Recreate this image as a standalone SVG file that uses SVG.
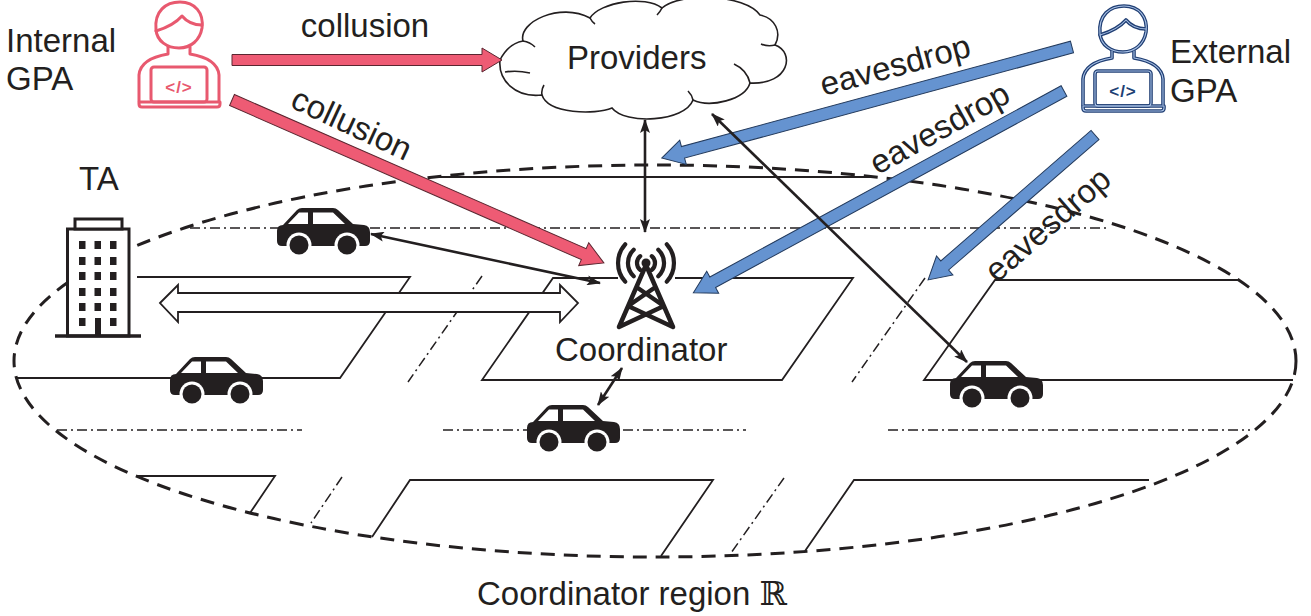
<svg xmlns="http://www.w3.org/2000/svg" width="1311" height="616" viewBox="0 0 1311 616">
<defs>
<style>
text{font-family:"Liberation Sans",Arial,Helvetica,sans-serif;font-size:33px;fill:#231F20}
.road{fill:none;stroke:#231F20;stroke-width:1.8}
.lane{fill:none;stroke:#231F20;stroke-width:1.5;stroke-dasharray:10 4 2 4}
.region{fill:none;stroke:#231F20;stroke-width:3;stroke-dasharray:14 9}
.link{fill:none;stroke:#231F20;stroke-width:2.6;marker-start:url(#tip);marker-end:url(#tip)}
.collude{fill:#EE5B74;stroke:#5a2630;stroke-width:1}
.spy{fill:#6593D0;stroke:#233a5c;stroke-width:1}
.ink{fill:#231F20}
.code{font-size:17px;font-weight:bold;text-anchor:middle;letter-spacing:1px}
</style>
<marker id="tip" viewBox="0 0 14 10" markerWidth="14" markerHeight="10" refX="13" refY="5" orient="auto-start-reverse" markerUnits="userSpaceOnUse">
<path d="M0,0 L14,5 L0,10 L3,5 Z" fill="#231F20"/>
</marker>
<!-- side-view car silhouette, 93 x 47 -->
<g id="car-shape">
<path d="M0,23 Q0,17 6,17 L20,2 Q22,0 25,0 L56,0 Q59,0 61,2 L76,16 L87,17 Q93,18 93,24 L93,33 Q93,38 88,38 L5,38 Q0,38 0,33 Z" fill="#231F20"/>
<path d="M11,16 L22,4.5 L31,4.5 L31,16 Z M36,4.5 L56,4.5 L68,16 L36,16 Z" fill="#fff"/>
<circle cx="22" cy="37" r="12.5" fill="#fff"/><circle cx="22" cy="37" r="9.5" fill="#231F20"/>
<circle cx="70" cy="37" r="12.5" fill="#fff"/><circle cx="70" cy="37" r="9.5" fill="#231F20"/>
</g>
<!-- person at a laptop, outline only; stroke comes from the <use> -->
<g id="figure" fill="none" stroke-linecap="round" stroke-linejoin="round">
<path d="M156,30 C154,11 166,2 180,2 C195,2 204,13 202,28 C200,40 191,48 179,48 C167,48 157,41 156,30 Z"/>
<path d="M156,31 C166,28 175,24 182,16 C187,22 194,25 202,25"/>
<path d="M168,47 L168,54 C150,57 140,64 139,75 L139,101"/>
<path d="M190,47 L190,54 C208,57 218,64 219,75 L219,101"/>
<rect x="151" y="67" width="56" height="35" rx="3"/>
<path d="M139,102 L220,102 L220,104 Q220,107 217,107 L142,107 Q139,107 139,104 Z"/>
</g>
</defs>

<rect width="1311" height="616" fill="#fff"/>

<!-- road edges and lane markings -->
<g id="roads">
<polyline class="road" points="137,277 410,277 340,378 16,378"/>
<polyline class="road" points="618,278 553,278 482,380 782,380 853,278 675,278"/>
<polyline class="road" points="1238,280 995,280 924,380 1293,380"/>
<line class="road" x1="436" y1="177" x2="874" y2="177"/>
<polyline class="road" points="137,476 275,476 250,513"/>
<polyline class="road" points="372,537 410,480 713,480 661,556"/>
<polyline class="road" points="805,551 854,480 1149,480"/>
<line class="lane" x1="190" y1="228" x2="1110" y2="228"/>
<line class="lane" x1="57" y1="430" x2="302" y2="430"/>
<line class="lane" x1="443" y1="430" x2="746" y2="430"/>
<line class="lane" x1="888" y1="430" x2="1250" y2="430"/>
<line class="lane" x1="482" y1="276" x2="408" y2="382"/>
<line class="lane" x1="925" y1="278" x2="852" y2="382"/>
<line class="lane" x1="342" y1="477" x2="311" y2="523"/>
<line class="lane" x1="784" y1="478" x2="731" y2="553"/>
</g>

<g id="region">
<ellipse class="region" cx="655" cy="361" rx="641" ry="196"/>
<text x="477" y="605">Coordinator region <tspan font-family="'DejaVu Serif','DejaVu Sans',serif">ℝ</tspan></text>
</g>

<g id="ta">
<rect x="67.5" y="229" width="61.5" height="107" fill="#fff" stroke="#231F20" stroke-width="3"/>
<rect x="75" y="219" width="47" height="10" fill="#fff" stroke="#231F20" stroke-width="3"/>
<line x1="55" y1="336" x2="141" y2="336" stroke="#231F20" stroke-width="3.5"/>
<g class="ink">
<rect x="79" y="241" width="6.5" height="8"/><rect x="94.5" y="241" width="6.5" height="8"/><rect x="110" y="241" width="6.5" height="8"/>
<rect x="79" y="257" width="6.5" height="8"/><rect x="94.5" y="257" width="6.5" height="8"/><rect x="110" y="257" width="6.5" height="8"/>
<rect x="79" y="272" width="6.5" height="8"/><rect x="94.5" y="272" width="6.5" height="8"/><rect x="110" y="272" width="6.5" height="8"/>
<rect x="79" y="288" width="6.5" height="8"/><rect x="94.5" y="288" width="6.5" height="8"/><rect x="110" y="288" width="6.5" height="8"/>
<rect x="79" y="303" width="6.5" height="8"/><rect x="94.5" y="303" width="6.5" height="8"/><rect x="110" y="303" width="6.5" height="8"/>
<rect x="79" y="318" width="6.5" height="8"/><rect x="95" y="318" width="6" height="18"/><rect x="110" y="318" width="6.5" height="8"/>
</g>
<text x="79" y="190">TA</text>
</g>

<g id="car-1"><use href="#car-shape" transform="translate(277,208)"/></g>
<g id="car-2"><use href="#car-shape" transform="translate(170,357)"/></g>
<g id="car-3"><use href="#car-shape" transform="translate(950,361)"/></g>
<g id="car-4"><use href="#car-shape" transform="translate(527,405)"/></g>

<g id="ta-link">
<polygon points="160,303 178,285 178,293 560,293 560,285 578,303 560,322 560,312 178,312 178,322" fill="#fff" stroke="#231F20" stroke-width="1.8" stroke-linejoin="miter"/>
</g>

<g id="coordinator">
<g fill="none" stroke="#231F20" stroke-width="4.2" stroke-linecap="round">
<path d="M666.8,244.3 A28,28 0 0 1 666.8,281.7 M625.2,244.3 A28,28 0 0 0 625.2,281.7"/>
<path d="M658.3,249.8 A18,18 0 0 1 658.3,276.2 M633.7,249.8 A18,18 0 0 0 633.7,276.2"/>
<path d="M651.8,256.1 A9,9 0 0 1 651.8,269.9 M640.2,256.1 A9,9 0 0 0 640.2,269.9"/>
</g>
<path d="M646,265 L619,327 M646,265 L673,327 M636.4,287 L663.9,306 M655.6,287 L628.1,306 M628.1,306 L673,327 M663.9,306 L619,327" fill="none" stroke="#231F20" stroke-width="4.5" stroke-linecap="round" stroke-linejoin="round"/>
<circle cx="646" cy="263" r="4.5" class="ink"/>
<text x="555" y="361">Coordinator</text>
</g>

<g id="providers">
<path d="M500,60 C505,50 512,43 523,41 C518,22 560,2 590,18 C600,2 645,-5 662,8 C680,-8 745,-6 760,15 C775,18 782,32 775,45 C795,52 790,85 750,83 C745,100 710,108 693,100 C685,122 625,125 612,108 C595,115 548,114 542,95 C515,98 498,80 500,60 Z" fill="#fff" stroke="#231F20" stroke-width="1.6"/>
<path d="M523,41 Q530,42 535,47 M775,45 Q768,47 761,44 M750,83 Q747,70 734,64 M693,100 Q692,95 688,91 M542,95 Q541,90 544,85 M505,72 Q517,70 530,73 M590,18 Q592,22 595,24 M662,8 Q660,12 657,15" fill="none" stroke="#231F20" stroke-width="1.6"/>
<text x="567" y="69">Providers</text>
</g>

<g id="internal-gpa">
<use href="#figure" stroke="#E8596F" stroke-width="3"/>
<text x="179" y="93" class="code" style="fill:#E8596F">&lt;/&gt;</text>
<text x="6" y="52">Internal</text>
<text x="6" y="90">GPA</text>
</g>

<g id="external-gpa">
<use href="#figure" transform="translate(944,4)" stroke="#213F74" stroke-width="3.6"/>
<use href="#figure" transform="translate(944,4)" stroke="#A9C2E6" stroke-width="1.1"/>
<text x="1123" y="97" class="code" style="fill:#213F74">&lt;/&gt;</text>
<text x="1170" y="63">External</text>
<text x="1170" y="102">GPA</text>
</g>

<g id="connectors">
<polygon class="collude" points="232,54.5 482,54.5 482,48 502,60 482,72 482,65.5 232,65.5"/>
<polygon class="collude" transform="translate(232,100) rotate(23.66)" points="0,-6 384,-6 384,-12.5 406,0 384,12.5 384,6 0,6"/>
<polygon class="spy" transform="translate(1072,47) rotate(164.85)" points="0,-6 403,-6 403,-12.5 425,0 403,12.5 403,6 0,6"/>
<polygon class="spy" transform="translate(1064,91) rotate(151.43)" points="0,-6 400,-6 400,-12.5 422,0 400,12.5 400,6 0,6"/>
<polygon class="spy" transform="translate(1095,135) rotate(139.04)" points="0,-6 199,-6 199,-12.5 221,0 199,12.5 199,6 0,6"/>
<line class="link" x1="645" y1="120" x2="645" y2="232"/>
<line class="link" x1="371" y1="234" x2="600" y2="283"/>
<line class="link" x1="712" y1="114" x2="967" y2="362"/>
<line class="link" x1="622" y1="368" x2="598" y2="405"/>
<text x="365" y="37" text-anchor="middle">collusion</text>
<text transform="translate(347,134) rotate(25)" text-anchor="middle">collusion</text>
<text transform="translate(898,76) rotate(-15)" text-anchor="middle">eavesdrop</text>
<text transform="translate(945,138) rotate(-29)" text-anchor="middle">eavesdrop</text>
<text transform="translate(1055,233) rotate(-41)" text-anchor="middle">eavesdrop</text>
</g>
</svg>
